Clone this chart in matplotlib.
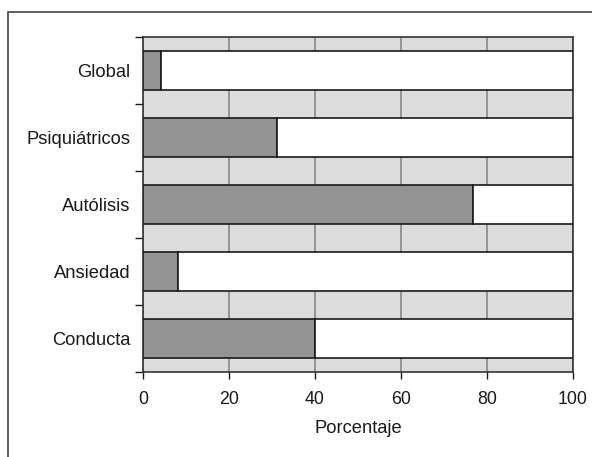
import numpy as np
import matplotlib.pyplot as plt
from matplotlib.patches import Rectangle

# Data
categories = ["Global", "Psiquiátricos", "Autólisis", "Ansiedad", "Conducta"]
values = [4.2, 31.2, 76.7, 8.1, 40.0]
total = 100

plt.rcParams["font.family"] = ["Liberation Sans", "DejaVu Sans"]

fig = plt.figure(figsize=(5.92, 4.57), dpi=100)
ax = fig.add_axes([143 / 592, 1 - 372 / 457, 430 / 592, 335 / 457])

ypos = np.arange(len(categories))
rest = [total - v for v in values]

ax.set_facecolor("#dcdcdc")
ax.barh(ypos, values, height=0.58, color="#939393", edgecolor="#1a1a1a",
        linewidth=1.2, zorder=3)
ax.barh(ypos, rest, left=values, height=0.58, color="white",
        edgecolor="#1a1a1a", linewidth=1.2, zorder=3)

ax.set_xlim(0, 100)
ax.set_ylim(len(categories) - 0.5, -0.5)

# grid in background
ax.set_xticks([0, 20, 40, 60, 80, 100])
ax.grid(axis="x", color="#808080", linewidth=1.1, zorder=1)
ax.set_axisbelow(True)

# y ticks at the boundaries, labels at the centers
ax.set_yticks(np.arange(-0.5, len(categories) + 0.5, 1))
ax.set_yticklabels([])
ax.set_yticks(ypos, minor=True)
ax.set_yticklabels(categories, minor=True, fontsize=13.2, color="#1a1a1a")
ax.tick_params(axis="y", which="minor", length=0, pad=9)
ax.tick_params(axis="y", which="major", length=6, width=1, color="#1a1a1a")
ax.tick_params(axis="x", length=5, width=1, color="#1a1a1a", pad=9,
               labelsize=12.8, labelcolor="#1a1a1a")

ax.set_xlabel("Porcentaje", fontsize=13.2, color="#1a1a1a", labelpad=8)

for s in ax.spines.values():
    s.set_color("#333333")
    s.set_linewidth(1.2)

# frame around the figure (cropped at the right and bottom)
fig.patches.append(Rectangle((7.5 / 592, -0.1), 1.2, 1.1 - 11.5 / 457,
                             transform=fig.transFigure, fill=False,
                             edgecolor="#444444", linewidth=1.2))

fig.savefig("out.png", dpi=100)
